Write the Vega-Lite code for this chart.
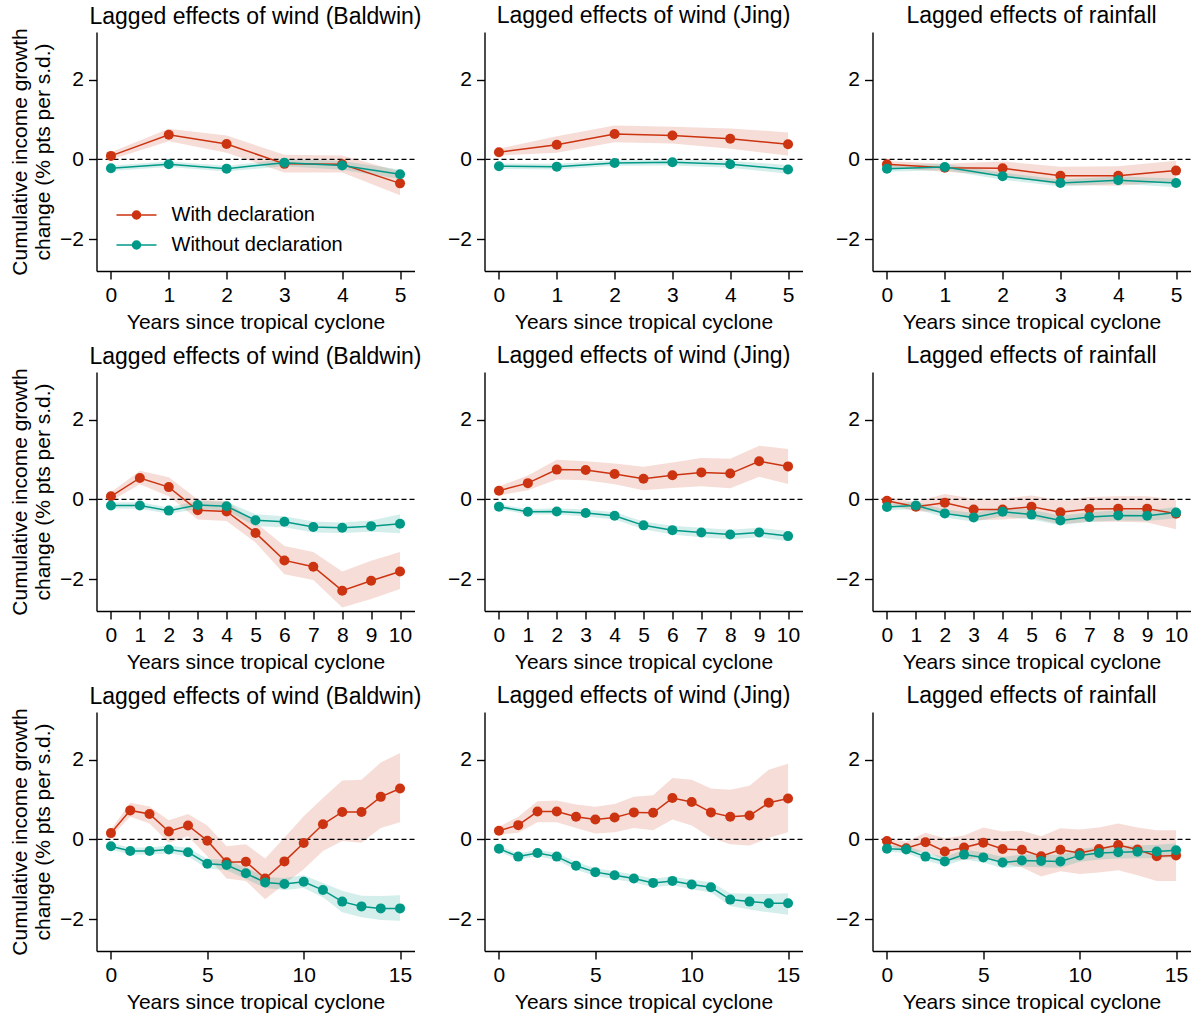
{
"$schema": "https://vega.github.io/schema/vega-lite/v6.json",
"padding": {"left": 9.5, "top": 5, "right": 5, "bottom": 5},
"datasets": {"d": [
{"p":"A1","s":"With declaration","x":0,"y":0.09,"lo":0.0,"hi":0.18},
{"p":"A1","s":"With declaration","x":1,"y":0.62,"lo":0.46,"hi":0.77},
{"p":"A1","s":"With declaration","x":2,"y":0.39,"lo":0.17,"hi":0.6},
{"p":"A1","s":"With declaration","x":3,"y":-0.11,"lo":-0.33,"hi":0.12},
{"p":"A1","s":"With declaration","x":4,"y":-0.12,"lo":-0.33,"hi":0.1},
{"p":"A1","s":"With declaration","x":5,"y":-0.6,"lo":-0.9,"hi":-0.3},
{"p":"A1","s":"Without declaration","x":0,"y":-0.22,"lo":-0.29,"hi":-0.15},
{"p":"A1","s":"Without declaration","x":1,"y":-0.12,"lo":-0.19,"hi":-0.05},
{"p":"A1","s":"Without declaration","x":2,"y":-0.23,"lo":-0.3,"hi":-0.16},
{"p":"A1","s":"Without declaration","x":3,"y":-0.08,"lo":-0.17,"hi":0.01},
{"p":"A1","s":"Without declaration","x":4,"y":-0.15,"lo":-0.26,"hi":-0.04},
{"p":"A1","s":"Without declaration","x":5,"y":-0.37,"lo":-0.49,"hi":-0.25},
{"p":"A2","s":"With declaration","x":0,"y":0.18,"lo":0.1,"hi":0.27},
{"p":"A2","s":"With declaration","x":1,"y":0.37,"lo":0.17,"hi":0.58},
{"p":"A2","s":"With declaration","x":2,"y":0.64,"lo":0.43,"hi":0.85},
{"p":"A2","s":"With declaration","x":3,"y":0.6,"lo":0.4,"hi":0.82},
{"p":"A2","s":"With declaration","x":4,"y":0.52,"lo":0.27,"hi":0.78},
{"p":"A2","s":"With declaration","x":5,"y":0.38,"lo":0.1,"hi":0.68},
{"p":"A2","s":"Without declaration","x":0,"y":-0.17,"lo":-0.24,"hi":-0.1},
{"p":"A2","s":"Without declaration","x":1,"y":-0.18,"lo":-0.25,"hi":-0.11},
{"p":"A2","s":"Without declaration","x":2,"y":-0.09,"lo":-0.16,"hi":-0.02},
{"p":"A2","s":"Without declaration","x":3,"y":-0.07,"lo":-0.15,"hi":0.01},
{"p":"A2","s":"Without declaration","x":4,"y":-0.12,"lo":-0.21,"hi":-0.03},
{"p":"A2","s":"Without declaration","x":5,"y":-0.25,"lo":-0.36,"hi":-0.14},
{"p":"A3","s":"With declaration","x":0,"y":-0.12,"lo":-0.2,"hi":-0.04},
{"p":"A3","s":"With declaration","x":1,"y":-0.21,"lo":-0.31,"hi":-0.11},
{"p":"A3","s":"With declaration","x":2,"y":-0.22,"lo":-0.4,"hi":-0.05},
{"p":"A3","s":"With declaration","x":3,"y":-0.41,"lo":-0.64,"hi":-0.18},
{"p":"A3","s":"With declaration","x":4,"y":-0.41,"lo":-0.66,"hi":-0.17},
{"p":"A3","s":"With declaration","x":5,"y":-0.28,"lo":-0.55,"hi":-0.03},
{"p":"A3","s":"Without declaration","x":0,"y":-0.23,"lo":-0.31,"hi":-0.15},
{"p":"A3","s":"Without declaration","x":1,"y":-0.19,"lo":-0.27,"hi":-0.11},
{"p":"A3","s":"Without declaration","x":2,"y":-0.42,"lo":-0.51,"hi":-0.33},
{"p":"A3","s":"Without declaration","x":3,"y":-0.59,"lo":-0.68,"hi":-0.5},
{"p":"A3","s":"Without declaration","x":4,"y":-0.52,"lo":-0.61,"hi":-0.43},
{"p":"A3","s":"Without declaration","x":5,"y":-0.59,"lo":-0.7,"hi":-0.48},
{"p":"B1","s":"With declaration","x":0,"y":0.08,"lo":-0.04,"hi":0.18},
{"p":"B1","s":"With declaration","x":1,"y":0.54,"lo":0.38,"hi":0.72},
{"p":"B1","s":"With declaration","x":2,"y":0.31,"lo":0.08,"hi":0.56},
{"p":"B1","s":"With declaration","x":3,"y":-0.27,"lo":-0.5,"hi":0.0},
{"p":"B1","s":"With declaration","x":4,"y":-0.3,"lo":-0.54,"hi":-0.04},
{"p":"B1","s":"With declaration","x":5,"y":-0.84,"lo":-1.08,"hi":-0.58},
{"p":"B1","s":"With declaration","x":6,"y":-1.53,"lo":-1.88,"hi":-1.17},
{"p":"B1","s":"With declaration","x":7,"y":-1.69,"lo":-2.02,"hi":-1.32},
{"p":"B1","s":"With declaration","x":8,"y":-2.29,"lo":-2.71,"hi":-1.81},
{"p":"B1","s":"With declaration","x":9,"y":-2.04,"lo":-2.5,"hi":-1.54},
{"p":"B1","s":"With declaration","x":10,"y":-1.81,"lo":-2.25,"hi":-1.32},
{"p":"B1","s":"Without declaration","x":0,"y":-0.15,"lo":-0.23,"hi":-0.07},
{"p":"B1","s":"Without declaration","x":1,"y":-0.15,"lo":-0.23,"hi":-0.07},
{"p":"B1","s":"Without declaration","x":2,"y":-0.28,"lo":-0.36,"hi":-0.2},
{"p":"B1","s":"Without declaration","x":3,"y":-0.14,"lo":-0.24,"hi":-0.04},
{"p":"B1","s":"Without declaration","x":4,"y":-0.17,"lo":-0.28,"hi":-0.06},
{"p":"B1","s":"Without declaration","x":5,"y":-0.52,"lo":-0.67,"hi":-0.37},
{"p":"B1","s":"Without declaration","x":6,"y":-0.56,"lo":-0.7,"hi":-0.42},
{"p":"B1","s":"Without declaration","x":7,"y":-0.69,"lo":-0.83,"hi":-0.55},
{"p":"B1","s":"Without declaration","x":8,"y":-0.71,"lo":-0.84,"hi":-0.58},
{"p":"B1","s":"Without declaration","x":9,"y":-0.67,"lo":-0.81,"hi":-0.53},
{"p":"B1","s":"Without declaration","x":10,"y":-0.61,"lo":-0.85,"hi":-0.37},
{"p":"B2","s":"With declaration","x":0,"y":0.22,"lo":0.1,"hi":0.33},
{"p":"B2","s":"With declaration","x":1,"y":0.41,"lo":0.23,"hi":0.6},
{"p":"B2","s":"With declaration","x":2,"y":0.75,"lo":0.5,"hi":1.0},
{"p":"B2","s":"With declaration","x":3,"y":0.74,"lo":0.48,"hi":0.96},
{"p":"B2","s":"With declaration","x":4,"y":0.64,"lo":0.38,"hi":0.9},
{"p":"B2","s":"With declaration","x":5,"y":0.52,"lo":0.23,"hi":0.82},
{"p":"B2","s":"With declaration","x":6,"y":0.61,"lo":0.29,"hi":0.93},
{"p":"B2","s":"With declaration","x":7,"y":0.68,"lo":0.33,"hi":1.04},
{"p":"B2","s":"With declaration","x":8,"y":0.65,"lo":0.28,"hi":1.02},
{"p":"B2","s":"With declaration","x":9,"y":0.96,"lo":0.57,"hi":1.35},
{"p":"B2","s":"With declaration","x":10,"y":0.83,"lo":0.39,"hi":1.27},
{"p":"B2","s":"Without declaration","x":0,"y":-0.18,"lo":-0.24,"hi":-0.12},
{"p":"B2","s":"Without declaration","x":1,"y":-0.31,"lo":-0.38,"hi":-0.24},
{"p":"B2","s":"Without declaration","x":2,"y":-0.3,"lo":-0.38,"hi":-0.22},
{"p":"B2","s":"Without declaration","x":3,"y":-0.34,"lo":-0.43,"hi":-0.25},
{"p":"B2","s":"Without declaration","x":4,"y":-0.41,"lo":-0.5,"hi":-0.32},
{"p":"B2","s":"Without declaration","x":5,"y":-0.65,"lo":-0.75,"hi":-0.55},
{"p":"B2","s":"Without declaration","x":6,"y":-0.77,"lo":-0.88,"hi":-0.66},
{"p":"B2","s":"Without declaration","x":7,"y":-0.83,"lo":-0.95,"hi":-0.71},
{"p":"B2","s":"Without declaration","x":8,"y":-0.88,"lo":-1.0,"hi":-0.76},
{"p":"B2","s":"Without declaration","x":9,"y":-0.83,"lo":-0.95,"hi":-0.71},
{"p":"B2","s":"Without declaration","x":10,"y":-0.92,"lo":-1.05,"hi":-0.79},
{"p":"B3","s":"With declaration","x":0,"y":-0.03,"lo":-0.12,"hi":0.06},
{"p":"B3","s":"With declaration","x":1,"y":-0.18,"lo":-0.3,"hi":-0.06},
{"p":"B3","s":"With declaration","x":2,"y":-0.08,"lo":-0.3,"hi":0.14},
{"p":"B3","s":"With declaration","x":3,"y":-0.25,"lo":-0.52,"hi":0.02},
{"p":"B3","s":"With declaration","x":4,"y":-0.25,"lo":-0.5,"hi":0.02},
{"p":"B3","s":"With declaration","x":5,"y":-0.18,"lo":-0.46,"hi":0.1},
{"p":"B3","s":"With declaration","x":6,"y":-0.32,"lo":-0.62,"hi":-0.02},
{"p":"B3","s":"With declaration","x":7,"y":-0.24,"lo":-0.56,"hi":0.06},
{"p":"B3","s":"With declaration","x":8,"y":-0.23,"lo":-0.56,"hi":0.08},
{"p":"B3","s":"With declaration","x":9,"y":-0.23,"lo":-0.58,"hi":0.08},
{"p":"B3","s":"With declaration","x":10,"y":-0.36,"lo":-0.75,"hi":0.0},
{"p":"B3","s":"Without declaration","x":0,"y":-0.19,"lo":-0.27,"hi":-0.11},
{"p":"B3","s":"Without declaration","x":1,"y":-0.15,"lo":-0.24,"hi":-0.06},
{"p":"B3","s":"Without declaration","x":2,"y":-0.35,"lo":-0.45,"hi":-0.25},
{"p":"B3","s":"Without declaration","x":3,"y":-0.45,"lo":-0.56,"hi":-0.34},
{"p":"B3","s":"Without declaration","x":4,"y":-0.31,"lo":-0.42,"hi":-0.2},
{"p":"B3","s":"Without declaration","x":5,"y":-0.38,"lo":-0.5,"hi":-0.26},
{"p":"B3","s":"Without declaration","x":6,"y":-0.53,"lo":-0.65,"hi":-0.41},
{"p":"B3","s":"Without declaration","x":7,"y":-0.44,"lo":-0.56,"hi":-0.32},
{"p":"B3","s":"Without declaration","x":8,"y":-0.4,"lo":-0.53,"hi":-0.27},
{"p":"B3","s":"Without declaration","x":9,"y":-0.41,"lo":-0.54,"hi":-0.28},
{"p":"B3","s":"Without declaration","x":10,"y":-0.33,"lo":-0.47,"hi":-0.19},
{"p":"C1","s":"With declaration","x":0,"y":0.16,"lo":0.07,"hi":0.25},
{"p":"C1","s":"With declaration","x":1,"y":0.73,"lo":0.57,"hi":0.92},
{"p":"C1","s":"With declaration","x":2,"y":0.64,"lo":0.4,"hi":0.83},
{"p":"C1","s":"With declaration","x":3,"y":0.2,"lo":-0.08,"hi":0.48},
{"p":"C1","s":"With declaration","x":4,"y":0.35,"lo":0.08,"hi":0.64},
{"p":"C1","s":"With declaration","x":5,"y":-0.03,"lo":-0.42,"hi":0.35},
{"p":"C1","s":"With declaration","x":6,"y":-0.57,"lo":-0.98,"hi":-0.17},
{"p":"C1","s":"With declaration","x":7,"y":-0.56,"lo":-1.04,"hi":-0.12},
{"p":"C1","s":"With declaration","x":8,"y":-0.98,"lo":-1.5,"hi":-0.48},
{"p":"C1","s":"With declaration","x":9,"y":-0.55,"lo":-1.12,"hi":0.04},
{"p":"C1","s":"With declaration","x":10,"y":-0.09,"lo":-0.75,"hi":0.58},
{"p":"C1","s":"With declaration","x":11,"y":0.38,"lo":-0.29,"hi":1.04},
{"p":"C1","s":"With declaration","x":12,"y":0.69,"lo":-0.04,"hi":1.48},
{"p":"C1","s":"With declaration","x":13,"y":0.69,"lo":-0.08,"hi":1.5},
{"p":"C1","s":"With declaration","x":14,"y":1.07,"lo":0.29,"hi":1.93},
{"p":"C1","s":"With declaration","x":15,"y":1.28,"lo":0.43,"hi":2.17},
{"p":"C1","s":"Without declaration","x":0,"y":-0.17,"lo":-0.25,"hi":-0.09},
{"p":"C1","s":"Without declaration","x":1,"y":-0.29,"lo":-0.38,"hi":-0.2},
{"p":"C1","s":"Without declaration","x":2,"y":-0.29,"lo":-0.38,"hi":-0.2},
{"p":"C1","s":"Without declaration","x":3,"y":-0.25,"lo":-0.35,"hi":-0.15},
{"p":"C1","s":"Without declaration","x":4,"y":-0.32,"lo":-0.43,"hi":-0.21},
{"p":"C1","s":"Without declaration","x":5,"y":-0.61,"lo":-0.73,"hi":-0.49},
{"p":"C1","s":"Without declaration","x":6,"y":-0.64,"lo":-0.77,"hi":-0.51},
{"p":"C1","s":"Without declaration","x":7,"y":-0.85,"lo":-0.99,"hi":-0.71},
{"p":"C1","s":"Without declaration","x":8,"y":-1.08,"lo":-1.22,"hi":-0.94},
{"p":"C1","s":"Without declaration","x":9,"y":-1.12,"lo":-1.27,"hi":-0.97},
{"p":"C1","s":"Without declaration","x":10,"y":-1.06,"lo":-1.22,"hi":-0.9},
{"p":"C1","s":"Without declaration","x":11,"y":-1.27,"lo":-1.45,"hi":-1.09},
{"p":"C1","s":"Without declaration","x":12,"y":-1.56,"lo":-1.83,"hi":-1.29},
{"p":"C1","s":"Without declaration","x":13,"y":-1.68,"lo":-1.95,"hi":-1.41},
{"p":"C1","s":"Without declaration","x":14,"y":-1.73,"lo":-2.02,"hi":-1.42},
{"p":"C1","s":"Without declaration","x":15,"y":-1.73,"lo":-2.04,"hi":-1.4},
{"p":"C2","s":"With declaration","x":0,"y":0.22,"lo":0.12,"hi":0.32},
{"p":"C2","s":"With declaration","x":1,"y":0.36,"lo":0.17,"hi":0.57},
{"p":"C2","s":"With declaration","x":2,"y":0.7,"lo":0.43,"hi":0.96},
{"p":"C2","s":"With declaration","x":3,"y":0.7,"lo":0.43,"hi":0.98},
{"p":"C2","s":"With declaration","x":4,"y":0.57,"lo":0.29,"hi":0.88},
{"p":"C2","s":"With declaration","x":5,"y":0.5,"lo":0.15,"hi":0.82},
{"p":"C2","s":"With declaration","x":6,"y":0.55,"lo":0.18,"hi":0.89},
{"p":"C2","s":"With declaration","x":7,"y":0.68,"lo":0.29,"hi":1.07},
{"p":"C2","s":"With declaration","x":8,"y":0.67,"lo":0.23,"hi":1.11},
{"p":"C2","s":"With declaration","x":9,"y":1.04,"lo":0.5,"hi":1.54},
{"p":"C2","s":"With declaration","x":10,"y":0.94,"lo":0.35,"hi":1.5},
{"p":"C2","s":"With declaration","x":11,"y":0.68,"lo":0.04,"hi":1.28},
{"p":"C2","s":"With declaration","x":12,"y":0.57,"lo":-0.12,"hi":1.25},
{"p":"C2","s":"With declaration","x":13,"y":0.6,"lo":-0.15,"hi":1.35},
{"p":"C2","s":"With declaration","x":14,"y":0.92,"lo":0.04,"hi":1.75},
{"p":"C2","s":"With declaration","x":15,"y":1.03,"lo":0.18,"hi":1.9},
{"p":"C2","s":"Without declaration","x":0,"y":-0.23,"lo":-0.3,"hi":-0.16},
{"p":"C2","s":"Without declaration","x":1,"y":-0.43,"lo":-0.51,"hi":-0.35},
{"p":"C2","s":"Without declaration","x":2,"y":-0.34,"lo":-0.42,"hi":-0.26},
{"p":"C2","s":"Without declaration","x":3,"y":-0.43,"lo":-0.52,"hi":-0.34},
{"p":"C2","s":"Without declaration","x":4,"y":-0.66,"lo":-0.76,"hi":-0.56},
{"p":"C2","s":"Without declaration","x":5,"y":-0.82,"lo":-0.92,"hi":-0.72},
{"p":"C2","s":"Without declaration","x":6,"y":-0.9,"lo":-1.0,"hi":-0.8},
{"p":"C2","s":"Without declaration","x":7,"y":-0.98,"lo":-1.08,"hi":-0.88},
{"p":"C2","s":"Without declaration","x":8,"y":-1.09,"lo":-1.2,"hi":-0.98},
{"p":"C2","s":"Without declaration","x":9,"y":-1.04,"lo":-1.15,"hi":-0.93},
{"p":"C2","s":"Without declaration","x":10,"y":-1.13,"lo":-1.25,"hi":-1.01},
{"p":"C2","s":"Without declaration","x":11,"y":-1.2,"lo":-1.33,"hi":-1.07},
{"p":"C2","s":"Without declaration","x":12,"y":-1.51,"lo":-1.67,"hi":-1.35},
{"p":"C2","s":"Without declaration","x":13,"y":-1.56,"lo":-1.76,"hi":-1.36},
{"p":"C2","s":"Without declaration","x":14,"y":-1.6,"lo":-1.83,"hi":-1.37},
{"p":"C2","s":"Without declaration","x":15,"y":-1.6,"lo":-1.89,"hi":-1.35},
{"p":"C3","s":"With declaration","x":0,"y":-0.04,"lo":-0.12,"hi":0.05},
{"p":"C3","s":"With declaration","x":1,"y":-0.22,"lo":-0.35,"hi":-0.06},
{"p":"C3","s":"With declaration","x":2,"y":-0.07,"lo":-0.29,"hi":0.17},
{"p":"C3","s":"With declaration","x":3,"y":-0.3,"lo":-0.52,"hi":0.03},
{"p":"C3","s":"With declaration","x":4,"y":-0.2,"lo":-0.5,"hi":0.1},
{"p":"C3","s":"With declaration","x":5,"y":-0.08,"lo":-0.46,"hi":0.3},
{"p":"C3","s":"With declaration","x":6,"y":-0.24,"lo":-0.6,"hi":0.2},
{"p":"C3","s":"With declaration","x":7,"y":-0.26,"lo":-0.7,"hi":0.22},
{"p":"C3","s":"With declaration","x":8,"y":-0.42,"lo":-0.93,"hi":0.08},
{"p":"C3","s":"With declaration","x":9,"y":-0.26,"lo":-0.8,"hi":0.28},
{"p":"C3","s":"With declaration","x":10,"y":-0.34,"lo":-0.87,"hi":0.25},
{"p":"C3","s":"With declaration","x":11,"y":-0.24,"lo":-0.83,"hi":0.3},
{"p":"C3","s":"With declaration","x":12,"y":-0.14,"lo":-0.77,"hi":0.4},
{"p":"C3","s":"With declaration","x":13,"y":-0.25,"lo":-0.9,"hi":0.3},
{"p":"C3","s":"With declaration","x":14,"y":-0.42,"lo":-1.04,"hi":0.23},
{"p":"C3","s":"With declaration","x":15,"y":-0.4,"lo":-1.04,"hi":0.23},
{"p":"C3","s":"Without declaration","x":0,"y":-0.23,"lo":-0.31,"hi":-0.15},
{"p":"C3","s":"Without declaration","x":1,"y":-0.25,"lo":-0.34,"hi":-0.16},
{"p":"C3","s":"Without declaration","x":2,"y":-0.43,"lo":-0.53,"hi":-0.33},
{"p":"C3","s":"Without declaration","x":3,"y":-0.55,"lo":-0.66,"hi":-0.44},
{"p":"C3","s":"Without declaration","x":4,"y":-0.38,"lo":-0.5,"hi":-0.26},
{"p":"C3","s":"Without declaration","x":5,"y":-0.45,"lo":-0.58,"hi":-0.32},
{"p":"C3","s":"Without declaration","x":6,"y":-0.58,"lo":-0.72,"hi":-0.44},
{"p":"C3","s":"Without declaration","x":7,"y":-0.53,"lo":-0.68,"hi":-0.38},
{"p":"C3","s":"Without declaration","x":8,"y":-0.54,"lo":-0.7,"hi":-0.38},
{"p":"C3","s":"Without declaration","x":9,"y":-0.55,"lo":-0.71,"hi":-0.39},
{"p":"C3","s":"Without declaration","x":10,"y":-0.4,"lo":-0.56,"hi":-0.24},
{"p":"C3","s":"Without declaration","x":11,"y":-0.34,"lo":-0.5,"hi":-0.18},
{"p":"C3","s":"Without declaration","x":12,"y":-0.32,"lo":-0.48,"hi":-0.16},
{"p":"C3","s":"Without declaration","x":13,"y":-0.31,"lo":-0.47,"hi":-0.15},
{"p":"C3","s":"Without declaration","x":14,"y":-0.3,"lo":-0.47,"hi":-0.13},
{"p":"C3","s":"Without declaration","x":15,"y":-0.27,"lo":-0.44,"hi":-0.1}
]},
"data": {"name": "d"},
"columns": 3,
"spacing": {"row": 101, "column": 70},
"bounds": "flush",
"resolve": {"scale": {"x": "independent", "y": "independent"}, "axis": {"x": "independent", "y": "independent"}, "legend": {"color": "independent"}},
"concat": [
 {"width": 318, "height": 239, "title": {"text": "Lagged effects of wind (Baldwin)", "dy": 5}, "layer": [
  {"transform": [{"filter": "datum.p == 'A1'"}], "mark": {"type": "area", "opacity": 0.17}, "encoding": {"x": {"field": "x", "type": "quantitative", "scale": {"domain": [-0.25, 5.25], "nice": false}, "axis": {"values": [0,1,2,3,4,5], "tickCount": 12, "format": "d", "labelOverlap": false, "title": "Years since tropical cyclone"}}, "y": {"field": "lo", "type": "quantitative", "scale": {"domain": [-2.8, 3.2], "nice": false, "zero": false}, "axis": {"values": [-2,0,2], "title": ["Cumulative income growth", "change (% pts per s.d.)"]}}, "y2": {"field": "hi"}, "fill": {"field": "s", "type": "nominal", "scale": {"domain": ["With declaration", "Without declaration"], "range": ["#cc3311", "#009988"]}, "legend": null}}},
  {"data": {"values": [{"z": 0}]}, "mark": {"type": "rule", "color": "black", "strokeWidth": 1.3, "strokeDash": [5, 3]}, "encoding": {"y": {"field": "z", "type": "quantitative"}}},
  {"transform": [{"filter": "datum.p == 'A1'"}], "mark": {"type": "line", "strokeWidth": 1.5}, "encoding": {"x": {"field": "x", "type": "quantitative"}, "y": {"field": "y", "type": "quantitative"}, "color": {"field": "s", "type": "nominal", "scale": {"domain": ["With declaration", "Without declaration"], "range": ["#cc3311", "#009988"]}, "legend": {"title": null, "orient": "none", "legendX": 29, "legendY": 172}}}},
  {"transform": [{"filter": "datum.p == 'A1'"}], "mark": {"type": "point", "filled": true, "size": 100, "opacity": 1}, "encoding": {"x": {"field": "x", "type": "quantitative"}, "y": {"field": "y", "type": "quantitative"}, "color": {"field": "s", "type": "nominal", "scale": {"domain": ["With declaration", "Without declaration"], "range": ["#cc3311", "#009988"]}, "legend": {"title": null, "orient": "none", "legendX": 29, "legendY": 172}}}}
 ]},
 {"width": 318, "height": 239, "title": "Lagged effects of wind (Jing)", "layer": [
  {"transform": [{"filter": "datum.p == 'A2'"}], "mark": {"type": "area", "opacity": 0.17}, "encoding": {"x": {"field": "x", "type": "quantitative", "scale": {"domain": [-0.25, 5.25], "nice": false}, "axis": {"values": [0,1,2,3,4,5], "tickCount": 12, "format": "d", "labelOverlap": false, "title": "Years since tropical cyclone"}}, "y": {"field": "lo", "type": "quantitative", "scale": {"domain": [-2.8, 3.2], "nice": false, "zero": false}, "axis": {"values": [-2,0,2], "title": null}}, "y2": {"field": "hi"}, "fill": {"field": "s", "type": "nominal", "legend": null}}},
  {"data": {"values": [{"z": 0}]}, "mark": {"type": "rule", "color": "black", "strokeWidth": 1.3, "strokeDash": [5, 3]}, "encoding": {"y": {"field": "z", "type": "quantitative"}}},
  {"transform": [{"filter": "datum.p == 'A2'"}], "mark": {"type": "line", "strokeWidth": 1.5}, "encoding": {"x": {"field": "x", "type": "quantitative"}, "y": {"field": "y", "type": "quantitative"}, "stroke": {"field": "s", "type": "nominal", "scale": {"domain": ["With declaration", "Without declaration"], "range": ["#cc3311", "#009988"]}, "legend": null}}},
  {"transform": [{"filter": "datum.p == 'A2'"}], "mark": {"type": "point", "filled": true, "size": 100, "opacity": 1}, "encoding": {"x": {"field": "x", "type": "quantitative"}, "y": {"field": "y", "type": "quantitative"}, "fill": {"field": "s", "type": "nominal", "legend": null}}}
 ]},
 {"width": 318, "height": 239, "title": "Lagged effects of rainfall", "layer": [
  {"transform": [{"filter": "datum.p == 'A3'"}], "mark": {"type": "area", "opacity": 0.17}, "encoding": {"x": {"field": "x", "type": "quantitative", "scale": {"domain": [-0.25, 5.25], "nice": false}, "axis": {"values": [0,1,2,3,4,5], "tickCount": 12, "format": "d", "labelOverlap": false, "title": "Years since tropical cyclone"}}, "y": {"field": "lo", "type": "quantitative", "scale": {"domain": [-2.8, 3.2], "nice": false, "zero": false}, "axis": {"values": [-2,0,2], "title": null}}, "y2": {"field": "hi"}, "fill": {"field": "s", "type": "nominal", "legend": null}}},
  {"data": {"values": [{"z": 0}]}, "mark": {"type": "rule", "color": "black", "strokeWidth": 1.3, "strokeDash": [5, 3]}, "encoding": {"y": {"field": "z", "type": "quantitative"}}},
  {"transform": [{"filter": "datum.p == 'A3'"}], "mark": {"type": "line", "strokeWidth": 1.5}, "encoding": {"x": {"field": "x", "type": "quantitative"}, "y": {"field": "y", "type": "quantitative"}, "stroke": {"field": "s", "type": "nominal", "legend": null}}},
  {"transform": [{"filter": "datum.p == 'A3'"}], "mark": {"type": "point", "filled": true, "size": 100, "opacity": 1}, "encoding": {"x": {"field": "x", "type": "quantitative"}, "y": {"field": "y", "type": "quantitative"}, "fill": {"field": "s", "type": "nominal", "legend": null}}}
 ]},
 {"width": 318, "height": 239, "title": {"text": "Lagged effects of wind (Baldwin)", "dy": 5}, "layer": [
  {"transform": [{"filter": "datum.p == 'B1'"}], "mark": {"type": "area", "opacity": 0.17}, "encoding": {"x": {"field": "x", "type": "quantitative", "scale": {"domain": [-0.5, 10.5], "nice": false}, "axis": {"values": [0,1,2,3,4,5,6,7,8,9,10], "tickCount": 12, "format": "d", "labelOverlap": false, "title": "Years since tropical cyclone"}}, "y": {"field": "lo", "type": "quantitative", "scale": {"domain": [-2.8, 3.2], "nice": false, "zero": false}, "axis": {"values": [-2,0,2], "title": ["Cumulative income growth", "change (% pts per s.d.)"]}}, "y2": {"field": "hi"}, "fill": {"field": "s", "type": "nominal", "legend": null}}},
  {"data": {"values": [{"z": 0}]}, "mark": {"type": "rule", "color": "black", "strokeWidth": 1.3, "strokeDash": [5, 3]}, "encoding": {"y": {"field": "z", "type": "quantitative"}}},
  {"transform": [{"filter": "datum.p == 'B1'"}], "mark": {"type": "line", "strokeWidth": 1.5}, "encoding": {"x": {"field": "x", "type": "quantitative"}, "y": {"field": "y", "type": "quantitative"}, "stroke": {"field": "s", "type": "nominal", "legend": null}}},
  {"transform": [{"filter": "datum.p == 'B1'"}], "mark": {"type": "point", "filled": true, "size": 100, "opacity": 1}, "encoding": {"x": {"field": "x", "type": "quantitative"}, "y": {"field": "y", "type": "quantitative"}, "fill": {"field": "s", "type": "nominal", "legend": null}}}
 ]},
 {"width": 318, "height": 239, "title": "Lagged effects of wind (Jing)", "layer": [
  {"transform": [{"filter": "datum.p == 'B2'"}], "mark": {"type": "area", "opacity": 0.17}, "encoding": {"x": {"field": "x", "type": "quantitative", "scale": {"domain": [-0.5, 10.5], "nice": false}, "axis": {"values": [0,1,2,3,4,5,6,7,8,9,10], "tickCount": 12, "format": "d", "labelOverlap": false, "title": "Years since tropical cyclone"}}, "y": {"field": "lo", "type": "quantitative", "scale": {"domain": [-2.8, 3.2], "nice": false, "zero": false}, "axis": {"values": [-2,0,2], "title": null}}, "y2": {"field": "hi"}, "fill": {"field": "s", "type": "nominal", "legend": null}}},
  {"data": {"values": [{"z": 0}]}, "mark": {"type": "rule", "color": "black", "strokeWidth": 1.3, "strokeDash": [5, 3]}, "encoding": {"y": {"field": "z", "type": "quantitative"}}},
  {"transform": [{"filter": "datum.p == 'B2'"}], "mark": {"type": "line", "strokeWidth": 1.5}, "encoding": {"x": {"field": "x", "type": "quantitative"}, "y": {"field": "y", "type": "quantitative"}, "stroke": {"field": "s", "type": "nominal", "legend": null}}},
  {"transform": [{"filter": "datum.p == 'B2'"}], "mark": {"type": "point", "filled": true, "size": 100, "opacity": 1}, "encoding": {"x": {"field": "x", "type": "quantitative"}, "y": {"field": "y", "type": "quantitative"}, "fill": {"field": "s", "type": "nominal", "legend": null}}}
 ]},
 {"width": 318, "height": 239, "title": "Lagged effects of rainfall", "layer": [
  {"transform": [{"filter": "datum.p == 'B3'"}], "mark": {"type": "area", "opacity": 0.17}, "encoding": {"x": {"field": "x", "type": "quantitative", "scale": {"domain": [-0.5, 10.5], "nice": false}, "axis": {"values": [0,1,2,3,4,5,6,7,8,9,10], "tickCount": 12, "format": "d", "labelOverlap": false, "title": "Years since tropical cyclone"}}, "y": {"field": "lo", "type": "quantitative", "scale": {"domain": [-2.8, 3.2], "nice": false, "zero": false}, "axis": {"values": [-2,0,2], "title": null}}, "y2": {"field": "hi"}, "fill": {"field": "s", "type": "nominal", "legend": null}}},
  {"data": {"values": [{"z": 0}]}, "mark": {"type": "rule", "color": "black", "strokeWidth": 1.3, "strokeDash": [5, 3]}, "encoding": {"y": {"field": "z", "type": "quantitative"}}},
  {"transform": [{"filter": "datum.p == 'B3'"}], "mark": {"type": "line", "strokeWidth": 1.5}, "encoding": {"x": {"field": "x", "type": "quantitative"}, "y": {"field": "y", "type": "quantitative"}, "stroke": {"field": "s", "type": "nominal", "legend": null}}},
  {"transform": [{"filter": "datum.p == 'B3'"}], "mark": {"type": "point", "filled": true, "size": 100, "opacity": 1}, "encoding": {"x": {"field": "x", "type": "quantitative"}, "y": {"field": "y", "type": "quantitative"}, "fill": {"field": "s", "type": "nominal", "legend": null}}}
 ]},
 {"width": 318, "height": 239, "title": {"text": "Lagged effects of wind (Baldwin)", "dy": 5}, "layer": [
  {"transform": [{"filter": "datum.p == 'C1'"}], "mark": {"type": "area", "opacity": 0.17}, "encoding": {"x": {"field": "x", "type": "quantitative", "scale": {"domain": [-0.75, 15.75], "nice": false}, "axis": {"values": [0,5,10,15], "tickCount": 12, "format": "d", "labelOverlap": false, "title": "Years since tropical cyclone"}}, "y": {"field": "lo", "type": "quantitative", "scale": {"domain": [-2.8, 3.2], "nice": false, "zero": false}, "axis": {"values": [-2,0,2], "title": ["Cumulative income growth", "change (% pts per s.d.)"]}}, "y2": {"field": "hi"}, "fill": {"field": "s", "type": "nominal", "legend": null}}},
  {"data": {"values": [{"z": 0}]}, "mark": {"type": "rule", "color": "black", "strokeWidth": 1.3, "strokeDash": [5, 3]}, "encoding": {"y": {"field": "z", "type": "quantitative"}}},
  {"transform": [{"filter": "datum.p == 'C1'"}], "mark": {"type": "line", "strokeWidth": 1.5}, "encoding": {"x": {"field": "x", "type": "quantitative"}, "y": {"field": "y", "type": "quantitative"}, "stroke": {"field": "s", "type": "nominal", "legend": null}}},
  {"transform": [{"filter": "datum.p == 'C1'"}], "mark": {"type": "point", "filled": true, "size": 100, "opacity": 1}, "encoding": {"x": {"field": "x", "type": "quantitative"}, "y": {"field": "y", "type": "quantitative"}, "fill": {"field": "s", "type": "nominal", "legend": null}}}
 ]},
 {"width": 318, "height": 239, "title": "Lagged effects of wind (Jing)", "layer": [
  {"transform": [{"filter": "datum.p == 'C2'"}], "mark": {"type": "area", "opacity": 0.17}, "encoding": {"x": {"field": "x", "type": "quantitative", "scale": {"domain": [-0.75, 15.75], "nice": false}, "axis": {"values": [0,5,10,15], "tickCount": 12, "format": "d", "labelOverlap": false, "title": "Years since tropical cyclone"}}, "y": {"field": "lo", "type": "quantitative", "scale": {"domain": [-2.8, 3.2], "nice": false, "zero": false}, "axis": {"values": [-2,0,2], "title": null}}, "y2": {"field": "hi"}, "fill": {"field": "s", "type": "nominal", "legend": null}}},
  {"data": {"values": [{"z": 0}]}, "mark": {"type": "rule", "color": "black", "strokeWidth": 1.3, "strokeDash": [5, 3]}, "encoding": {"y": {"field": "z", "type": "quantitative"}}},
  {"transform": [{"filter": "datum.p == 'C2'"}], "mark": {"type": "line", "strokeWidth": 1.5}, "encoding": {"x": {"field": "x", "type": "quantitative"}, "y": {"field": "y", "type": "quantitative"}, "stroke": {"field": "s", "type": "nominal", "legend": null}}},
  {"transform": [{"filter": "datum.p == 'C2'"}], "mark": {"type": "point", "filled": true, "size": 100, "opacity": 1}, "encoding": {"x": {"field": "x", "type": "quantitative"}, "y": {"field": "y", "type": "quantitative"}, "fill": {"field": "s", "type": "nominal", "legend": null}}}
 ]},
 {"width": 318, "height": 239, "title": "Lagged effects of rainfall", "layer": [
  {"transform": [{"filter": "datum.p == 'C3'"}], "mark": {"type": "area", "opacity": 0.17}, "encoding": {"x": {"field": "x", "type": "quantitative", "scale": {"domain": [-0.75, 15.75], "nice": false}, "axis": {"values": [0,5,10,15], "tickCount": 12, "format": "d", "labelOverlap": false, "title": "Years since tropical cyclone"}}, "y": {"field": "lo", "type": "quantitative", "scale": {"domain": [-2.8, 3.2], "nice": false, "zero": false}, "axis": {"values": [-2,0,2], "title": null}}, "y2": {"field": "hi"}, "fill": {"field": "s", "type": "nominal", "legend": null}}},
  {"data": {"values": [{"z": 0}]}, "mark": {"type": "rule", "color": "black", "strokeWidth": 1.3, "strokeDash": [5, 3]}, "encoding": {"y": {"field": "z", "type": "quantitative"}}},
  {"transform": [{"filter": "datum.p == 'C3'"}], "mark": {"type": "line", "strokeWidth": 1.5}, "encoding": {"x": {"field": "x", "type": "quantitative"}, "y": {"field": "y", "type": "quantitative"}, "stroke": {"field": "s", "type": "nominal", "legend": null}}},
  {"transform": [{"filter": "datum.p == 'C3'"}], "mark": {"type": "point", "filled": true, "size": 100, "opacity": 1}, "encoding": {"x": {"field": "x", "type": "quantitative"}, "y": {"field": "y", "type": "quantitative"}, "fill": {"field": "s", "type": "nominal", "legend": null}}}
 ]}
],
"config": {
 "font": "Liberation Sans",
 "view": {"stroke": null},
 "axis": {"grid": false, "domainColor": "black", "domainWidth": 1.4, "tickColor": "black", "tickWidth": 1.4, "tickSize": 8, "labelColor": "black", "labelFontSize": 21, "labelPadding": 5, "titleColor": "black", "titleFontSize": 21, "titleFontWeight": "normal", "titlePadding": 6, "labelOverlap": false, "labelFlush": false},
 "title": {"fontSize": 23, "fontWeight": "normal", "color": "black", "offset": 4},
 "legend": {"labelFontSize": 20, "labelColor": "black", "labelLimit": 400, "symbolType": "M-2,0H2M0.4,0A0.4,0.4 0 1,1 -0.4,0A0.4,0.4 0 1,1 0.4,0Z", "symbolSize": 400, "symbolStrokeWidth": 1.5, "labelOffset": 24, "rowPadding": 9}
}
}
